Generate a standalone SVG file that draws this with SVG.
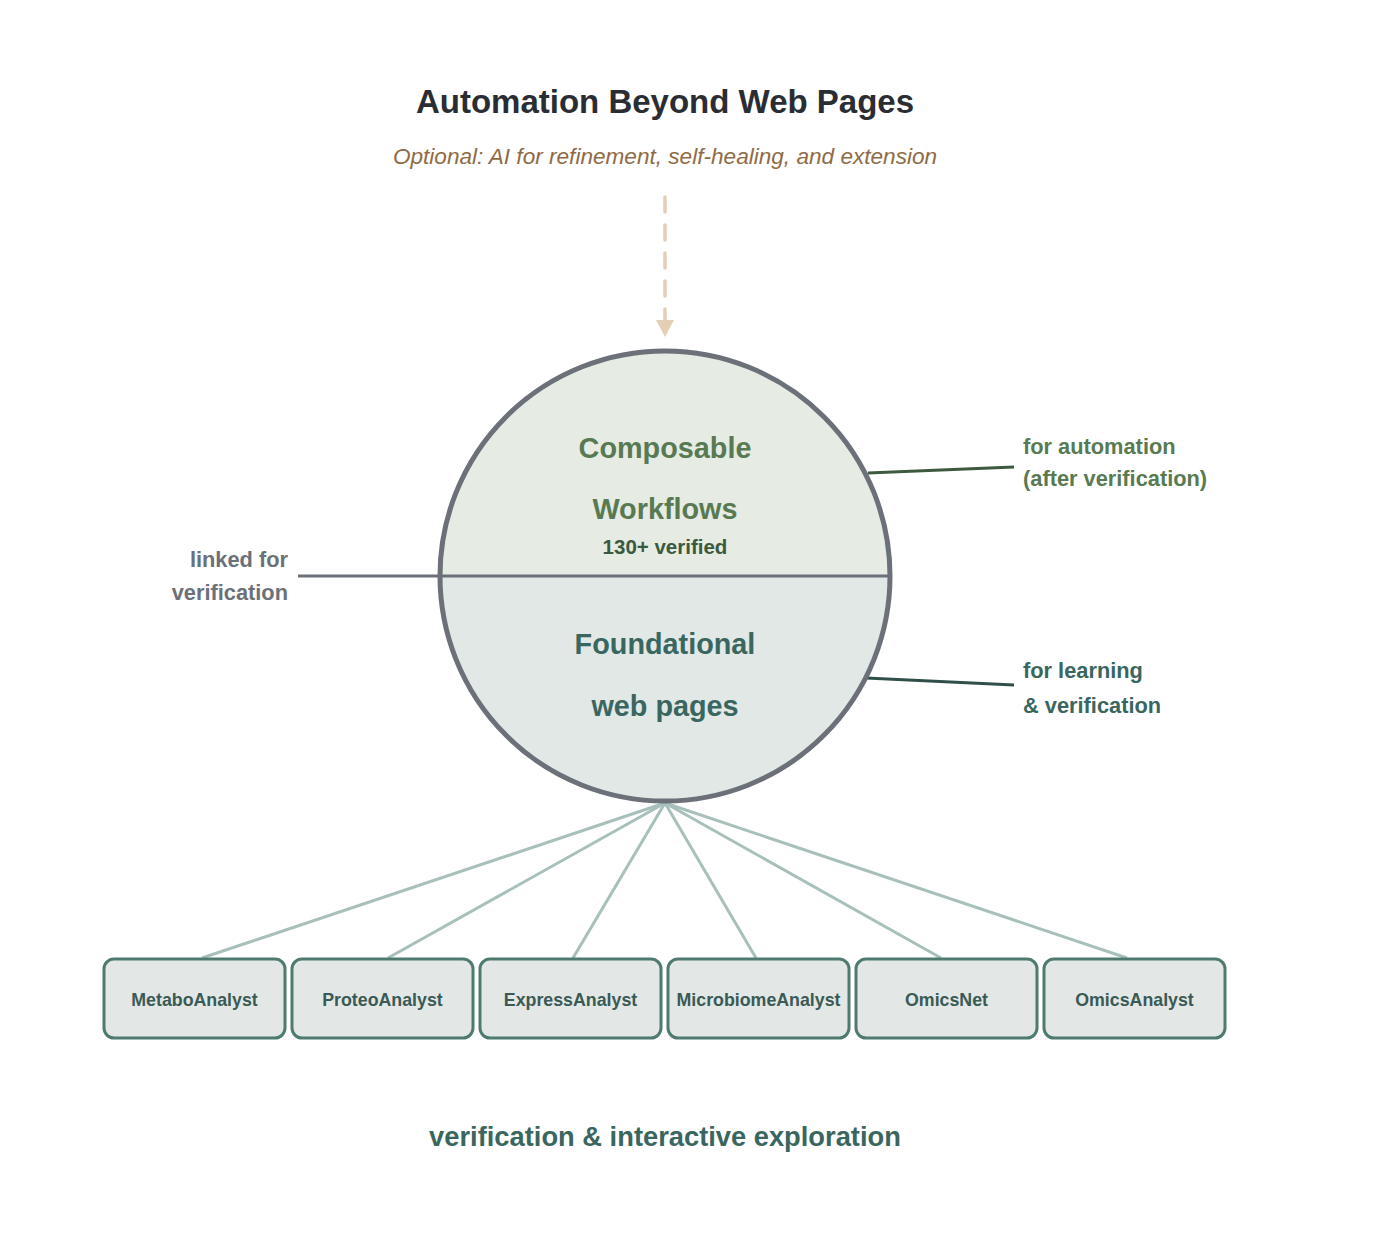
<svg xmlns="http://www.w3.org/2000/svg" width="1400" height="1258" viewBox="0 0 1400 1258">
<style>
text{font-family:"Liberation Sans",Arial,sans-serif;font-weight:bold}
.box{fill:#e3e8e6;stroke:#4e7a70;stroke-width:3}
.bl{font-size:17.8px;fill:#3a5a55;text-anchor:middle}
.spoke{stroke:#a8c0bb;stroke-width:3;fill:none}
.side{font-size:21.8px}
</style>
<rect width="1400" height="1258" fill="#ffffff"/>
<g id="title">
<text x="665" y="113" font-size="33" fill="#2a2d33" text-anchor="middle">Automation Beyond Web Pages</text>
<text x="665" y="164" font-size="22.6" fill="#8f6b45" text-anchor="middle" font-style="italic" style="font-weight:normal">Optional: AI for refinement, self-healing, and extension</text>
</g>
<g id="connectors">
<line x1="665" y1="197" x2="665" y2="320" stroke="#e3cfb5" stroke-width="3.5" stroke-dasharray="15,13" stroke-linecap="round"/>
<polygon points="656,320 674,320 665,337" fill="#e3cfb5"/>
<line x1="298" y1="576" x2="440" y2="576" stroke="#6b7079" stroke-width="3"/>
<line x1="868" y1="473" x2="1014" y2="467" stroke="#3e5a3e" stroke-width="3"/>
<line x1="866" y1="678" x2="1014" y2="685" stroke="#2f4f48" stroke-width="3"/>
<line class="spoke" x1="665" y1="803" x2="202" y2="958"/>
<line class="spoke" x1="665" y1="803" x2="388" y2="958"/>
<line class="spoke" x1="665" y1="803" x2="573" y2="958"/>
<line class="spoke" x1="665" y1="803" x2="756" y2="958"/>
<line class="spoke" x1="665" y1="803" x2="941" y2="958"/>
<line class="spoke" x1="665" y1="803" x2="1127" y2="958"/>
</g>
<g id="circle">
<path d="M440,576 A225,225 0 0 1 890,576 Z" fill="#e6ebe4"/>
<path d="M440,576 A225,225 0 0 0 890,576 Z" fill="#e1e8e6"/>
<line x1="440" y1="576" x2="890" y2="576" stroke="#6b7079" stroke-width="3"/>
<circle cx="665" cy="576" r="225" fill="none" stroke="#6b7079" stroke-width="5"/>
<text x="665" y="458" font-size="28.8" fill="#587a52" text-anchor="middle">Composable</text>
<text x="665" y="519" font-size="28.8" fill="#587a52" text-anchor="middle">Workflows</text>
<text x="665" y="554" font-size="20.5" fill="#3a5a40" text-anchor="middle">130+ verified</text>
<text x="665" y="654" font-size="28.8" fill="#3a6660" text-anchor="middle">Foundational</text>
<text x="665" y="716" font-size="28.8" fill="#3a6660" text-anchor="middle">web pages</text>
</g>
<g id="label-automation">
<text class="side" x="1023" y="454" fill="#587a52">for automation</text>
<text class="side" x="1023" y="486" fill="#587a52">(after verification)</text>
</g>
<g id="label-learning">
<text class="side" x="1023" y="678" fill="#3a6660">for learning</text>
<text class="side" x="1023" y="713" fill="#3a6660">&amp; verification</text>
</g>
<g id="label-linked">
<text class="side" x="288" y="567" fill="#6b7079" text-anchor="end">linked for</text>
<text class="side" x="288" y="600" fill="#6b7079" text-anchor="end">verification</text>
</g>
<g id="node-metabo"><rect class="box" x="104" y="959" width="181" height="79" rx="10"/><text class="bl" x="194.5" y="1006">MetaboAnalyst</text></g>
<g id="node-proteo"><rect class="box" x="292" y="959" width="181" height="79" rx="10"/><text class="bl" x="382.5" y="1006">ProteoAnalyst</text></g>
<g id="node-express"><rect class="box" x="480" y="959" width="181" height="79" rx="10"/><text class="bl" x="570.5" y="1006">ExpressAnalyst</text></g>
<g id="node-microbiome"><rect class="box" x="668" y="959" width="181" height="79" rx="10"/><text class="bl" x="758.5" y="1006">MicrobiomeAnalyst</text></g>
<g id="node-omicsnet"><rect class="box" x="856" y="959" width="181" height="79" rx="10"/><text class="bl" x="946.5" y="1006">OmicsNet</text></g>
<g id="node-omicsanalyst"><rect class="box" x="1044" y="959" width="181" height="79" rx="10"/><text class="bl" x="1134.5" y="1006">OmicsAnalyst</text></g>
<g id="footer">
<text x="665" y="1146" font-size="27.3" fill="#3a6660" text-anchor="middle">verification &amp; interactive exploration</text>
</g>
</svg>
